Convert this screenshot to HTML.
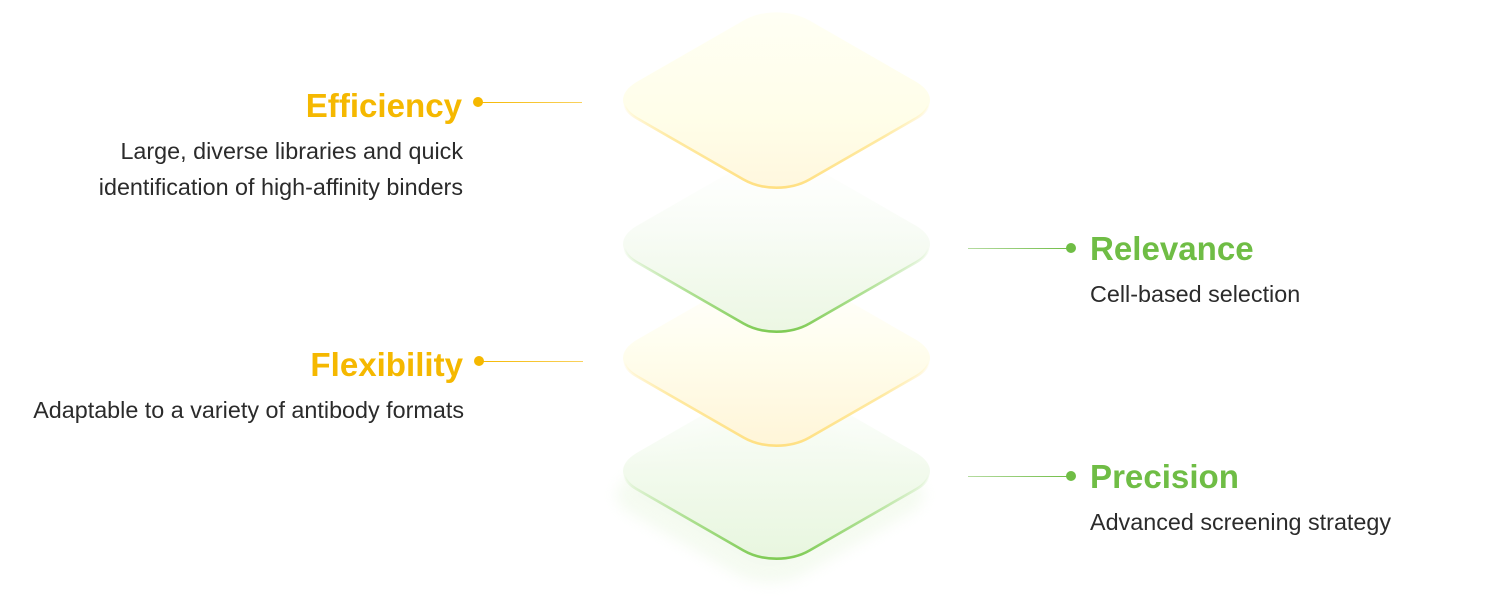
<!DOCTYPE html>
<html>
<head>
<meta charset="utf-8">
<style>
html,body{margin:0;padding:0;background:#fff;width:1486px;height:607px;overflow:hidden}
svg{display:block}
text{font-family:"Liberation Sans",sans-serif}
.h{font-weight:700;font-size:33.1px}
.b{font-size:23.35px;fill:#2b2b2b}
</style>
</head>
<body>
<svg width="1486" height="607" viewBox="0 0 1486 607" xmlns="http://www.w3.org/2000/svg">
<defs>
<path id="d" d="M-33,-79.5 C-14,-90.4 14,-90.4 33,-79.5 L140,-18 C158,-7 158,7 140,18 L33,79.5 C14,90.4 -14,90.4 -33,79.5 L-140,18 C-158,7 -158,-7 -140,-18 Z"/>
<path id="e" d="M-152,4 C-151,10 -146,14.5 -140,18 L-33,79.5 C-14,90.4 14,90.4 33,79.5 L140,18 C146,14.5 151,10 152,4"/>
<linearGradient id="y1" x1="0" y1="0" x2="0" y2="1"><stop offset="0" stop-color="#fffff4"/><stop offset=".6" stop-color="#fffee9"/><stop offset="1" stop-color="#fff7de"/></linearGradient>
<linearGradient id="y2" x1="0" y1="0" x2="0" y2="1"><stop offset="0" stop-color="#fffff4" stop-opacity=".3"/><stop offset=".5" stop-color="#fffdec"/><stop offset="1" stop-color="#fff5d8"/></linearGradient>
<linearGradient id="g1" x1="0" y1="0" x2="0" y2="1"><stop offset="0" stop-color="#fbfefa" stop-opacity=".15"/><stop offset=".5" stop-color="#f6fbf3"/><stop offset="1" stop-color="#ecf7e3"/></linearGradient>
<linearGradient id="g2" x1="0" y1="0" x2="0" y2="1"><stop offset="0" stop-color="#f8fdf6" stop-opacity=".2"/><stop offset=".5" stop-color="#f2faed"/><stop offset="1" stop-color="#e8f6df"/></linearGradient>
<linearGradient id="sy" gradientUnits="userSpaceOnUse" x1="0" y1="4" x2="0" y2="88"><stop offset="0" stop-color="#ffe58f" stop-opacity="0"/><stop offset=".4" stop-color="#ffe58f" stop-opacity=".8"/><stop offset="1" stop-color="#ffe083"/></linearGradient>
<linearGradient id="sg" gradientUnits="userSpaceOnUse" x1="0" y1="4" x2="0" y2="88"><stop offset="0" stop-color="#84d05a" stop-opacity="0"/><stop offset=".5" stop-color="#84d05a" stop-opacity=".6"/><stop offset="1" stop-color="#7fcb55"/></linearGradient>
<linearGradient id="ly" x1="0" y1="0" x2="1" y2="0"><stop offset="0" stop-color="#f5b800"/><stop offset="1" stop-color="#f9d25f"/></linearGradient>
<linearGradient id="lg" x1="0" y1="0" x2="1" y2="0"><stop offset="0" stop-color="#b5dba0"/><stop offset="1" stop-color="#6fbd45"/></linearGradient>
<filter id="blur" x="-20%" y="-20%" width="140%" height="140%"><feGaussianBlur stdDeviation="7"/></filter>
</defs>

<use href="#d" transform="translate(770,495)" fill="#e6f5dc" opacity=".4" filter="url(#blur)"/>

<g transform="translate(776.5,471)"><use href="#d" fill="#fff" opacity=".6"/><use href="#d" fill="url(#g2)"/><use href="#e" fill="none" stroke="url(#sg)" stroke-width="2.6"/></g>
<g transform="translate(776.5,358)"><use href="#d" fill="url(#y2)"/><use href="#e" fill="none" stroke="url(#sy)" stroke-width="2.6"/></g>
<g transform="translate(776.5,244)"><use href="#d" fill="url(#g1)"/><use href="#e" fill="none" stroke="url(#sg)" stroke-width="2.6"/></g>
<g transform="translate(776.5,100)"><use href="#d" fill="url(#y1)"/><use href="#e" fill="none" stroke="url(#sy)" stroke-width="2.6"/></g>

<rect x="478" y="102" width="104" height="1" fill="url(#ly)"/>
<circle cx="478" cy="102" r="5" fill="#f5b800"/>
<rect x="479" y="361" width="104" height="1" fill="url(#ly)"/>
<circle cx="479" cy="361" r="5" fill="#f5b800"/>
<rect x="968" y="248" width="103" height="1" fill="url(#lg)"/>
<circle cx="1071" cy="248" r="5" fill="#6fbd45"/>
<rect x="968" y="476" width="103" height="1" fill="url(#lg)"/>
<circle cx="1071" cy="476" r="5" fill="#6fbd45"/>

<text class="h" x="462" y="117" text-anchor="end" fill="#f5b800">Efficiency</text>
<text class="b" x="463" y="159" text-anchor="end">Large, diverse libraries and quick</text>
<text class="b" x="463" y="195" text-anchor="end">identification of high-affinity binders</text>

<text class="h" x="463" y="376" text-anchor="end" fill="#f5b800">Flexibility</text>
<text class="b" x="464" y="418" text-anchor="end">Adaptable to a variety of antibody formats</text>

<text class="h" x="1090" y="260" fill="#6fbd45">Relevance</text>
<text class="b" x="1090" y="302">Cell-based selection</text>

<text class="h" x="1090" y="488" fill="#6fbd45">Precision</text>
<text class="b" x="1090" y="530">Advanced screening strategy</text>
</svg>
</body>
</html>
